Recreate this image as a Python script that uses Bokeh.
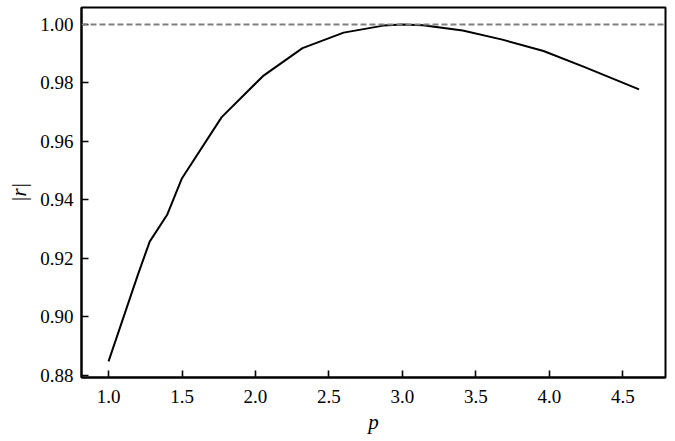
from bokeh.plotting import figure
from bokeh.models import Span, Range1d, FixedTicker
from bokeh.embed import file_html
from bokeh.resources import INLINE

p_values = [1.0, 1.2, 1.28, 1.4, 1.5, 1.77, 2.05, 2.32, 2.6, 2.87, 3.0, 3.14, 3.41, 3.68, 3.96, 4.24, 4.61]
r_values = [0.8847, 0.9144, 0.9257, 0.9350, 0.9474, 0.9683, 0.9823, 0.9919, 0.9972, 0.9996, 1.0000, 0.9997, 0.9979, 0.9948, 0.9909, 0.9854, 0.9778]
reference_level = 1.0
x_ticks = [1.0, 1.5, 2.0, 2.5, 3.0, 3.5, 4.0, 4.5]
y_ticks = [0.88, 0.90, 0.92, 0.94, 0.96, 0.98, 1.00]

FONT = "Liberation Serif"

p = figure(frame_width=584, frame_height=370,
           x_range=Range1d(0.816, 4.79), y_range=Range1d(0.8792, 1.0058),
           output_backend="svg", toolbar_location=None,
           min_border_left=81, min_border_right=2, min_border_top=7, min_border_bottom=54)

p.line(p_values, r_values, line_color="black", line_width=2)
p.add_layout(Span(location=reference_level, dimension="width", line_color="#7f7f7f",
                  line_width=2, line_dash="6 3"))

p.grid.visible = False
p.outline_line_color = "black"
p.outline_line_width = 2

for ax in (p.xaxis[0], p.yaxis[0]):
    ax.major_tick_in = 7
    ax.major_tick_out = 0
    ax.minor_tick_in = 0
    ax.minor_tick_out = 0
    ax.major_tick_line_color = "black"
    ax.major_tick_line_width = 1.6
    ax.axis_line_color = "black"
    ax.axis_line_width = 2
    ax.major_label_text_font = FONT
    ax.major_label_text_font_size = "19px"
    ax.major_label_text_color = "black"
    ax.axis_label_text_font = FONT
    ax.axis_label_text_font_size = "21px"
    ax.axis_label_text_font_style = "italic"
    ax.axis_label_text_color = "black"

p.xaxis[0].ticker = FixedTicker(ticks=x_ticks)
p.yaxis[0].ticker = FixedTicker(ticks=y_ticks)
p.xaxis[0].major_label_overrides = {t: f"{t:.1f}" for t in x_ticks}
p.yaxis[0].major_label_overrides = {t: f"{t:.2f}" for t in y_ticks}
p.xaxis[0].major_label_standoff = 12
p.yaxis[0].major_label_standoff = 8
p.xaxis[0].axis_label = "p"
p.yaxis[0].axis_label = "|r|"
p.xaxis[0].axis_label_standoff = 4
p.yaxis[0].axis_label_standoff = 6

open("out.html", "w").write(file_html(p, INLINE))
